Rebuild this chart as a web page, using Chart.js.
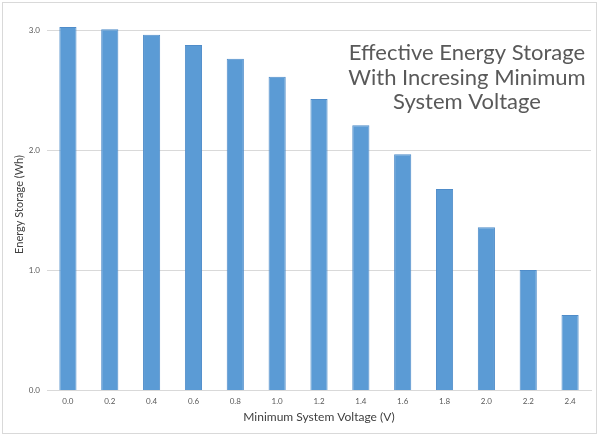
<!DOCTYPE html>
<html>
<head>
<meta charset="utf-8">
<script src="https://cdn.jsdelivr.net/npm/chart.js@4"></script>
<style>
  html, body { margin: 0; padding: 0; background: #fff; }
  #wrap { width: 600px; height: 436px; }
</style>
</head>
<body>
<div id="wrap"><canvas id="chart" width="600" height="436"></canvas></div>
<script>
// minimum system voltage (V) and the energy still usable above it (Wh)
const voltages = ['0.0', '0.2', '0.4', '0.6', '0.8', '1.0', '1.2', '1.4', '1.6', '1.8', '2.0', '2.2', '2.4'];
const energy = [3.03, 3.01, 2.965, 2.88, 2.765, 2.615, 2.43, 2.21, 1.968, 1.68, 1.36, 1.005, 0.63];
const titleLines = ['Effective Energy Storage', 'With Incresing Minimum', 'System Voltage'];

const FONT = 'Lato, "Open Sans", sans-serif';

// white background + thin frame like the exported picture
const framePlugin = {
  id: 'frame',
  beforeDraw(chart) {
    const ctx = chart.ctx;
    ctx.save();
    ctx.fillStyle = '#fff';
    ctx.fillRect(0, 0, chart.width, chart.height);
    ctx.strokeStyle = '#d9d9d9';
    ctx.lineWidth = 1;
    ctx.strokeRect(2.5, 2.5, chart.width - 6, chart.height - 5);
    ctx.restore();
  }
};

// title sits inside the plot, top right
const insideTitle = {
  id: 'insideTitle',
  afterDraw(chart) {
    const ctx = chart.ctx;
    ctx.save();
    ctx.font = '22px ' + FONT;
    ctx.fillStyle = '#595959';
    ctx.textAlign = 'center';
    ctx.textBaseline = 'middle';
    titleLines.forEach((line, i) => ctx.fillText(line, 467, 53 + i * 24.5));
    ctx.restore();
  }
};

new Chart(document.getElementById('chart'), {
  type: 'bar',
  data: {
    labels: voltages,
    datasets: [{
      data: energy,
      backgroundColor: '#5b9bd5',
      borderColor: '#4f8cc9',
      borderWidth: 1,
      categoryPercentage: 1,
      barPercentage: 0.41,
    }],
  },
  options: {
    responsive: false,
    animation: false,
    layout: { padding: { top: 18.5, right: 9, bottom: 0, left: 0 } },
    plugins: { legend: { display: false }, tooltip: { enabled: false } },
    scales: {
      x: {
        grid: { display: false, drawTicks: false },
        border: { color: '#d9d9d9' },
        ticks: { color: '#595959', font: { family: FONT, size: 8 }, padding: 6, maxRotation: 0 },
        title: { display: true, text: 'Minimum System Voltage (V)', color: '#404040', font: { family: FONT, size: 12 }, padding: { top: 0, bottom: 12 } },
        afterFit: s => { s.height = 45.5; },
      },
      y: {
        min: 0, max: 3.1,
        grid: { color: '#d9d9d9', drawTicks: false },
        border: { display: false },
        ticks: { stepSize: 1, includeBounds: false, color: '#595959', font: { family: FONT, size: 8 }, padding: 7, callback: v => v.toFixed(1) },
        title: { display: true, text: 'Energy Storage (Wh)', color: '#404040', font: { family: FONT, size: 11 }, padding: { top: 13, bottom: 0 } },
        afterFit: s => { s.width = 47; },
      },
    },
  },
  plugins: [framePlugin, insideTitle],
});
</script>
</body>
</html>
